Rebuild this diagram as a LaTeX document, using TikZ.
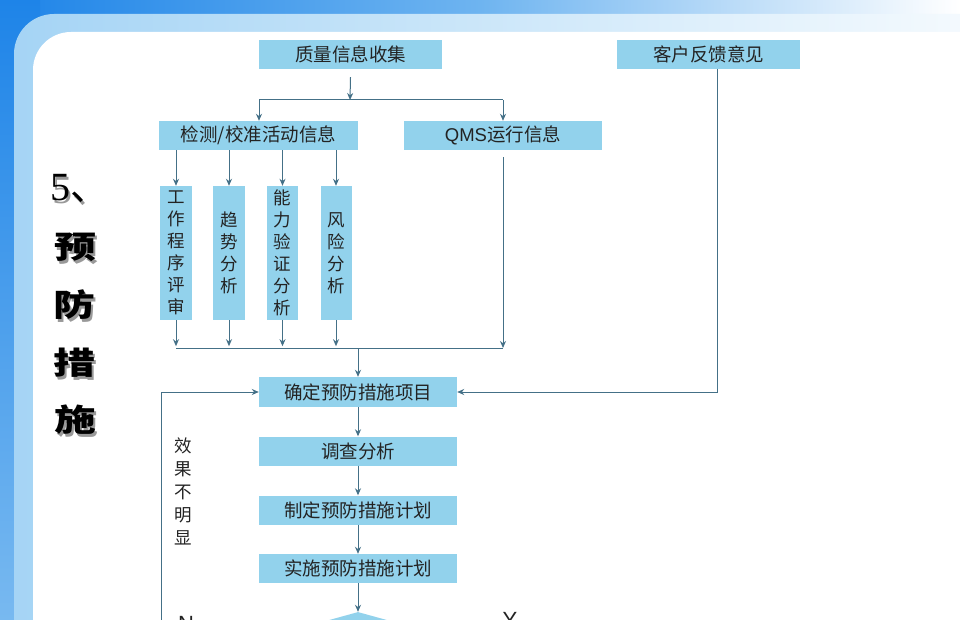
\documentclass[tikz,border=0pt]{standalone}
\usepackage{fontspec}
\newfontfamily\cjk{Noto Sans CJK SC}
\newfontfamily\lsans{Liberation Sans}
\newfontfamily\lserif{Liberation Serif}
\usetikzlibrary{shapes.geometric,arrows.meta}
\newcommand\myfs[2]{\fontsize{#1}{#2}\selectfont}
\newcommand\shd[1]{\makebox[0pt][l]{\hspace{2.5pt}\raisebox{-2.5pt}{\color{black!40}#1}}#1}
\newcommand\wide[1]{\scalebox{1.35}[1]{#1}}
\definecolor{boxc}{RGB}{146,210,236}
\definecolor{linec}{RGB}{68,112,135}
\definecolor{txtc}{RGB}{35,35,35}
\definecolor{topblue}{RGB}{30,132,232}
\definecolor{midblue}{RGB}{110,180,240}
\definecolor{bandblue}{RGB}{165,212,245}
\definecolor{leftlow}{RGB}{120,185,240}
\tikzset{
  box/.style={fill=boxc, inner sep=0pt, minimum height=29pt, font=\cjk\myfs{18.5}{20}, text=txtc},
  vbox/.style={fill=boxc, inner sep=0pt, minimum height=134pt, align=center, font=\cjk\myfs{17.5}{22}, text=txtc},
  conn/.style={draw=linec, line width=1pt},
  arr/.style={conn, -{Stealth[length=7pt,width=6pt]}},
  title/.style={font=\cjk\bfseries\myfs{31}{31}, text=black, inner sep=0pt},
}
\begin{document}
\begin{tikzpicture}[x=1pt,y=-1pt]
\useasboundingbox (0,0) rectangle (960,620);
\clip (0,0) rectangle (960,620);
% background
\fill[white] (0,0) rectangle (960,620);
\shade[left color=topblue, right color=white, middle color=midblue] (0,0) rectangle (960,40);
\shade[top color=topblue, bottom color=leftlow] (0,0) rectangle (40,620);
\shade[left color=bandblue, right color=white, rounded corners=40pt] (14,14) rectangle (1100,800);
\fill[white, rounded corners=38pt] (33,32) rectangle (1100,800);
% title
\node[inner sep=0pt, text=black, anchor=west] (t0) at (50,190) {\shd{{\lserif\myfs{40}{40}5}{\cjk\myfs{38}{38}、}}};
\node[title] (t1) at (75,249) {\shd{\wide{预}}};
\node[title] (t2) at (74,306) {\shd{\wide{防}}};
\node[title] (t3) at (74,364) {\shd{\wide{措}}};
\node[title] (t4) at (75,421) {\shd{\wide{施}}};
% boxes
\node[box, minimum width=183pt] (q1) at (350.5,54.5) {质量信息收集};
\node[box, minimum width=183pt] (kh) at (708.5,54.5) {客户反馈意见};
\node[box, minimum width=199pt] (jc) at (258.5,135.5) {检测/校准活动信息};
\node[box, minimum width=198pt] (qms) at (503,135.5) {{\lsans QMS}运行信息};
\node[vbox, minimum width=32pt] (s1) at (176,253) {工\\作\\程\\序\\评\\审};
\node[vbox, minimum width=32pt] (s2) at (229,253) {趋\\势\\分\\析};
\node[vbox, minimum width=31pt] (s3) at (282.5,253) {能\\力\\验\\证\\分\\析};
\node[vbox, minimum width=31pt] (s4) at (336,253) {风\\险\\分\\析};
\node[box, minimum width=198pt, minimum height=30pt] (qd) at (358,392) {确定预防措施项目};
\node[box, minimum width=198pt] (dc) at (358,451) {调查分析};
\node[box, minimum width=198pt] (zd) at (358,510) {制定预防措施计划};
\node[box, minimum width=198pt] (ss) at (358,568.5) {实施预防措施计划};
\node[diamond, fill=boxc, inner sep=0pt, minimum width=290pt, minimum height=80pt] (pd) at (358,652) {};
% labels
\node[font=\cjk\myfs{17.5}{23}, align=center, text=txtc] (lbl) at (183,491) {效\\果\\不\\明\\显};
\node[font=\lsans\myfs{22}{22}, text=txtc] (ln) at (186,624) {N};
\node[font=\lsans\myfs{22}{22}, text=txtc] (ly) at (510,620) {Y};
% connectors
\coordinate (b1) at (350,100);
\coordinate (b1l) at (259,100);
\coordinate (b1r) at (503,100);
\draw[arr] ([yshift=-8pt]q1.south) -- (b1);
\draw[conn] (b1l) -- (b1r);
\draw[arr] (b1l) -- (jc.north -| b1l);
\draw[arr] (b1r) -- (qms.north -| b1r);
\foreach \s in {s1,s2,s3,s4}{
  \draw[arr] (jc.south -| \s.north) -- (\s.north);
  \draw[arr] (\s.south) -- ++(0,26);
}
\coordinate (b2l) at (176,348);
\coordinate (b2r) at (503,348);
\coordinate (b2m) at (358,348);
\draw[conn] (b2l) -- (b2r);
\draw[arr] ([yshift=-7pt]qms.south) -- (b2r);
\draw[arr] (b2m) -- (qd.north);
\draw[arr] (qd) -- (dc);
\draw[arr] (dc) -- (zd);
\draw[arr] (zd) -- (ss);
\draw[arr] (ss) -- (pd.north);
\coordinate (kt) at (717,69);
\draw[arr] (kt) |- (qd.east);
\coordinate (nl) at (161,640);
\draw[arr] (nl) |- (qd.west);
\end{tikzpicture}
\end{document}
